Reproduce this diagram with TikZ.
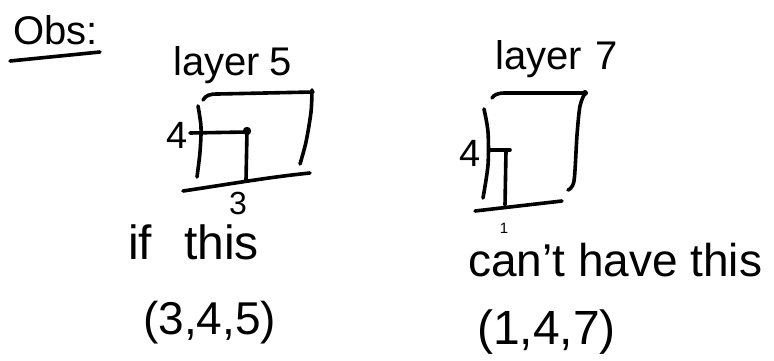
\documentclass[tikz,border=0pt]{standalone}
\usepackage{fontspec}
\setmainfont{Liberation Sans}
% hand lettering size: \pen{size in pt}
\newcommand\pen[1]{\fontsize{#1}{#1}\selectfont}
\begin{document}
\begin{tikzpicture}[x=1pt,y=-1pt,
  ink/.style={line width=3.6pt, line cap=round, line join=round, black},
  hand/.style={inner sep=0pt, anchor=base west, text=black},
  tag/.style={inner sep=0pt, anchor=center, text=black}]
\useasboundingbox (0,0) rectangle (774,361);

% heading
\node[hand, font=\pen{40}] (obs) at (13,45) {Obs:};
\coordinate (ulA) at (10,61);
\coordinate (ulB) at (100,52);
\draw[ink] (ulA) -- (ulB);

% ---- layer 5 ----
\node[hand, font=\pen{40}] (lay5) at (173,75) {layer\hspace{10pt}5};
\draw[ink] (203,100) .. controls (206,95) and (210,94) .. (218,94) -- (313,92);
\draw[ink] plot[smooth] coordinates {(312,90) (311,112) (306,142) (300,164)};
\draw[ink] plot[smooth] coordinates {(198,106) (201,127) (200,152) (197,177)};
\draw[ink] (183,191) .. controls (230,184) and (270,177) .. (310,173);
\draw[ink] (190,133) -- (247,132);
\draw[ink] (247,132) -- (246,180);
\fill (247,131) circle (4.2);
\node[tag, font=\pen{38}] (four5) at (177,135) {4};
\node[tag, font=\pen{32}] (three5) at (238,203) {3};
\node[hand, font=\pen{48}] (ifthis) at (128,259) {if\hspace{32pt}this};
\node[hand, font=\pen{46}] (tri5) at (143,334) {(3,4,5)};

% ---- layer 7 ----
\node[hand, font=\pen{40}] (lay7) at (495,70) {layer\hspace{14pt}7};
\draw[ink] (492,98) .. controls (494,95) and (497,93) .. (505,93) -- (585,93);
\fill (585,93) circle (3);
\draw[ink] plot[smooth] coordinates {(585,93) (580,106) (577,135) (574,181) (568,190)};
\draw[ink] plot[smooth] coordinates {(484,109) (488,132) (488,165) (483,198)};
\draw[ink] (475,211) -- (562,201);
\draw[ink] (490,150) -- (510,150);
\draw[ink] (506,151) -- (505,205);
\node[tag, font=\pen{38}] (four7) at (470,153) {4};
\node[tag, font=\pen{15}] (one7) at (504,228) {1};
\node[hand, font=\pen{46}] (canthave) at (468,276) {can't have this};
\node[hand, font=\pen{48}] (tri7) at (477,344) {(1,4,7)};
\end{tikzpicture}
\end{document}
